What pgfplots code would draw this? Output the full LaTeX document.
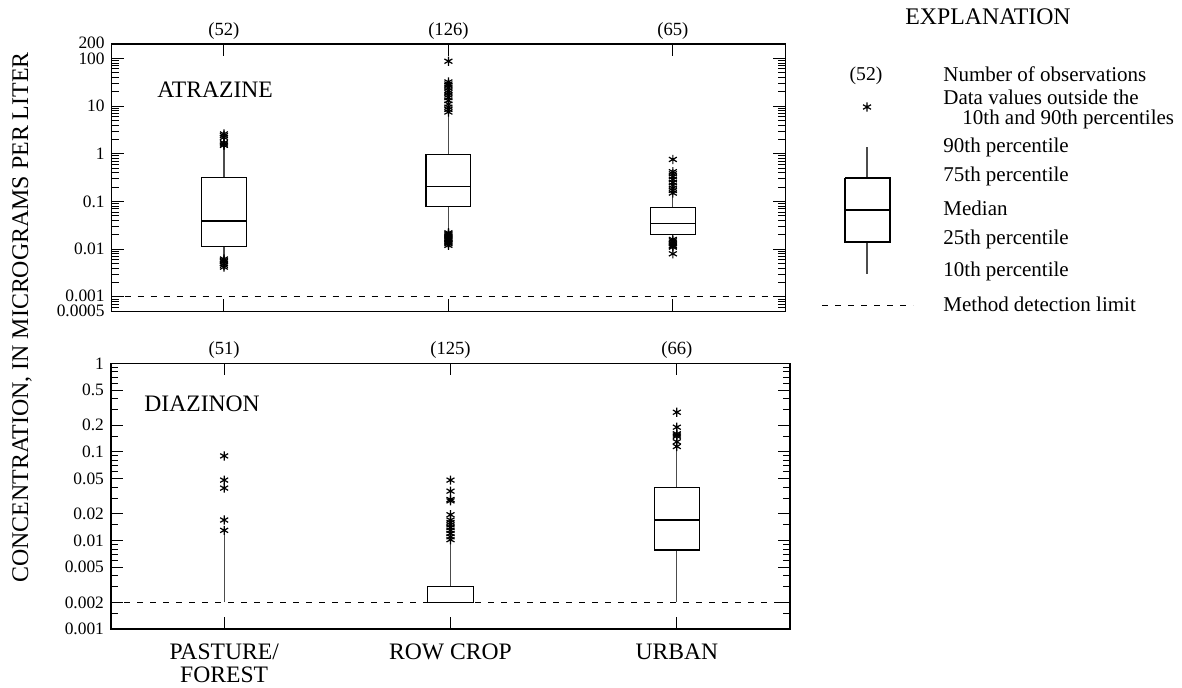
\documentclass[border=0pt]{standalone}
\usepackage{fontspec}
\setmainfont{Liberation Serif}
\usepackage{pgfplots}
\pgfplotsset{compat=1.18}

\tikzset{
  boxst/.style={black, line width=0.55pt},
  whisk/.style={black!70, line width=0.6pt},
  mdl/.style={black, line width=0.5pt, dash pattern=on 3pt off 3.5pt},
  ast/.style={only marks, mark=asterisk, mark size=2.3pt, black, mark options={line width=0.6pt}},
}

\begin{document}
\begin{tikzpicture}
\useasboundingbox (0,0) rectangle (591pt,343.5pt);

% ---------------- ATRAZINE ----------------
\begin{axis}[
  scale only axis, ymode=log, xmin=0.5, xmax=3.5, xtick={1,2,3},
  xticklabel pos=upper, xtick pos=both, ytick pos=both,
  major tick length=6pt, minor tick length=3.4pt,
  tick style={black, line width=0.45pt},
  axis line style={line width=0.6pt},
  /pgf/number format/assume math mode=true,
  yticklabel style={font=\fontsize{8.7}{10}\selectfont},
  xticklabel style={font=\fontsize{9.3}{11}\selectfont, yshift=-1.5pt},
  clip=false,
  at={(55.85pt,321.5pt)}, anchor=north west,
  width=336.7pt, height=133.6pt,
  ymin=0.0005, ymax=200,
  ytick={0.0005,0.001,0.01,0.1,1,10,100,200},
  yticklabels={\raisebox{-1.2pt}{0.0005},\raisebox{0.8pt}{0.001},0.01,0.1,1,10,\raisebox{-0.6pt}{100},\raisebox{1pt}{200}},
  minor ytick={0.0006,0.0007,0.0008,0.0009,0.002,0.003,0.004,0.005,0.006,0.007,0.008,0.009,0.02,0.03,0.04,0.05,0.06,0.07,0.08,0.09,0.2,0.3,0.4,0.5,0.6,0.7,0.8,0.9,2,3,4,5,6,7,8,9,20,30,40,50,60,70,80,90},
  xticklabels={{(52)},{(126)},{(65)}},
]
\addplot[mdl, mark=none] coordinates {(0.5,0.001) (3.5,0.001)};
% pasture/forest
\addplot[whisk, mark=none] coordinates {(1,0.0068) (1,0.0115)};
\addplot[whisk, mark=none] coordinates {(1,0.32) (1,1.45)};
\addplot[boxst, mark=none] coordinates {(0.9,0.0115) (1.1,0.0115) (1.1,0.32) (0.9,0.32) (0.9,0.0115)};
\addplot[boxst, mark=none] coordinates {(0.9,0.039) (1.1,0.039)};
\addplot[ast] coordinates {(1,2.6)(1,2.4)(1,2.2)(1,1.7)(1,1.6)(1,1.5)(1,0.0062)(1,0.0058)(1,0.0055)(1,0.005)(1,0.0046)(1,0.0042)};
% row crop
\addplot[whisk, mark=none] coordinates {(2,0.024) (2,0.077)};
\addplot[whisk, mark=none] coordinates {(2,0.95) (2,7)};
\addplot[boxst, mark=none] coordinates {(1.9,0.077) (2.1,0.077) (2.1,0.95) (1.9,0.95) (1.9,0.077)};
\addplot[boxst, mark=none] coordinates {(1.9,0.21) (2.1,0.21)};
\addplot[ast] coordinates {(2,87)(2,32)(2,29)(2,27)(2,24)(2,21)(2,19)(2,17)(2,15)(2,13)(2,11)(2,9.5)(2,8.5)(2,7.5)
  (2,0.022)(2,0.021)(2,0.02)(2,0.019)(2,0.018)(2,0.017)(2,0.016)(2,0.015)(2,0.014)(2,0.0135)(2,0.013)(2,0.012)};
% urban
\addplot[whisk, mark=none] coordinates {(3,0.0175) (3,0.0205)};
\addplot[whisk, mark=none] coordinates {(3,0.075) (3,0.14)};
\addplot[boxst, mark=none] coordinates {(2.9,0.0205) (3.1,0.0205) (3.1,0.075) (2.9,0.075) (2.9,0.0205)};
\addplot[boxst, mark=none] coordinates {(2.9,0.034) (3.1,0.034)};
\addplot[ast] coordinates {(3,0.76)(3,0.42)(3,0.38)(3,0.33)(3,0.29)(3,0.25)(3,0.22)(3,0.19)(3,0.17)(3,0.15)
  (3,0.016)(3,0.015)(3,0.014)(3,0.013)(3,0.012)(3,0.0115)(3,0.011)(3,0.008)};
\node[anchor=west, inner sep=0pt, font=\fontsize{11.8}{14}\selectfont] at (axis cs:0.702,22.2) {ATRAZINE};
\end{axis}

% ---------------- DIAZINON ----------------
\begin{axis}[
  scale only axis, ymode=log, xmin=0.5, xmax=3.5, xtick={1,2,3},
  xticklabel pos=upper, xtick pos=both, ytick pos=both,
  major tick length=6pt, minor tick length=3.4pt,
  tick style={black, line width=0.45pt},
  axis line style={line width=0.6pt},
  /pgf/number format/assume math mode=true,
  yticklabel style={font=\fontsize{8.7}{10}\selectfont},
  xticklabel style={font=\fontsize{9.3}{11}\selectfont, yshift=-1.2pt},
  clip=false,
  at={(55.5pt,161.85pt)}, anchor=north west,
  width=339.5pt, height=132.85pt,
  ymin=0.001, ymax=1,
  ytick={0.001,0.002,0.005,0.01,0.02,0.05,0.1,0.2,0.5,1},
  yticklabels={0.001,0.002,0.005,0.01,0.02,0.05,0.1,0.2,0.5,1},
  minor ytick={0.0015,0.003,0.004,0.006,0.007,0.008,0.009,0.015,0.03,0.04,0.06,0.07,0.08,0.09,0.15,0.3,0.4,0.6,0.7,0.8,0.9},
  xticklabels={{(51)},{(125)},{(66)}},
]
\addplot[mdl, mark=none] coordinates {(0.5,0.002) (3.5,0.002)};
% pasture/forest
\addplot[whisk, mark=none] coordinates {(1,0.002) (1,0.012)};
\addplot[ast] coordinates {(1,0.09)(1,0.048)(1,0.039)(1,0.017)(1,0.013)};
% row crop
\addplot[whisk, mark=none] coordinates {(2,0.003) (2,0.0101)};
\addplot[boxst, mark=none] coordinates {(1.9,0.002) (2.1,0.002) (2.1,0.003) (1.9,0.003) (1.9,0.002)};
\addplot[ast] coordinates {(2,0.048)(2,0.036)(2,0.029)(2,0.028)(2,0.0195)(2,0.017)(2,0.016)(2,0.015)(2,0.014)(2,0.013)(2,0.012)(2,0.011)(2,0.0102)};
% urban
\addplot[whisk, mark=none] coordinates {(3,0.002) (3,0.0078)};
\addplot[whisk, mark=none] coordinates {(3,0.04) (3,0.105)};
\addplot[boxst, mark=none] coordinates {(2.9,0.0078) (3.1,0.0078) (3.1,0.04) (2.9,0.04) (2.9,0.0078)};
\addplot[boxst, mark=none] coordinates {(2.9,0.017) (3.1,0.017)};
\addplot[ast] coordinates {(3,0.28)(3,0.19)(3,0.16)(3,0.155)(3,0.15)(3,0.13)(3,0.115)};
\node[anchor=west, inner sep=0pt, font=\fontsize{11.8}{14}\selectfont] at (axis cs:0.646,0.347) {DIAZINON};
\node[anchor=north, inner sep=0pt, yshift=-7.3pt, align=center, font=\fontsize{11.8}{11.6}\selectfont] at (axis cs:1,0.001) {PASTURE/\\FOREST};
\node[anchor=north, inner sep=0pt, yshift=-7.3pt, font=\fontsize{11.8}{11.6}\selectfont] at (axis cs:2,0.001) {ROW CROP};
\node[anchor=north, inner sep=0pt, yshift=-7.3pt, font=\fontsize{11.8}{11.6}\selectfont] at (axis cs:3,0.001) {URBAN};
\end{axis}

% ---------------- EXPLANATION ----------------
\begin{axis}[at={(390pt,343.5pt)}, anchor=north west, scale only axis,
  width=201pt, height=165pt, xmin=780, xmax=1182, ymin=0, ymax=330,
  y dir=reverse, hide axis, clip=false]
\addplot[whisk, mark=none] coordinates {(867,147) (867,178)};
\addplot[whisk, mark=none] coordinates {(867,242) (867,274)};
\addplot[boxst, mark=none] coordinates {(845,178) (890,178) (890,242) (845,242) (845,178)};
\addplot[boxst, mark=none] coordinates {(845,210) (890,210)};
\addplot[ast] coordinates {(867,107)};
\addplot[mdl, mark=none] coordinates {(822,305) (913,305)};
\node[font=\fontsize{11.9}{13}\selectfont] at (axis cs:988,17) {EXPLANATION};
\node[font=\fontsize{9.8}{11}\selectfont] at (axis cs:866,76) {(52)};
\node[anchor=west, inner sep=0pt, font=\fontsize{10.5}{12}\selectfont] at (axis cs:943,74) {Number of observations};
\node[anchor=west, inner sep=0pt, font=\fontsize{10.5}{12}\selectfont] at (axis cs:943,97.5) {Data values outside the};
\node[anchor=west, inner sep=0pt, font=\fontsize{10.5}{12}\selectfont] at (axis cs:962,119) {10th and 90th percentiles};
\node[anchor=west, inner sep=0pt, font=\fontsize{10.5}{12}\selectfont] at (axis cs:943,147) {90th percentile};
\node[anchor=west, inner sep=0pt, font=\fontsize{10.5}{12}\selectfont] at (axis cs:943,176) {75th percentile};
\node[anchor=west, inner sep=0pt, font=\fontsize{10.5}{12}\selectfont] at (axis cs:943,208) {Median};
\node[anchor=west, inner sep=0pt, font=\fontsize{10.5}{12}\selectfont] at (axis cs:943,239) {25th percentile};
\node[anchor=west, inner sep=0pt, font=\fontsize{10.5}{12}\selectfont] at (axis cs:943,271) {10th percentile};
\node[anchor=west, inner sep=0pt, font=\fontsize{10.5}{12}\selectfont] at (axis cs:943,304) {Method detection limit};
\end{axis}

\node[rotate=90, font=\fontsize{11.95}{14}\selectfont] at (11pt,184.75pt) {CONCENTRATION, IN MICROGRAMS PER LITER};
\end{tikzpicture}
\end{document}
